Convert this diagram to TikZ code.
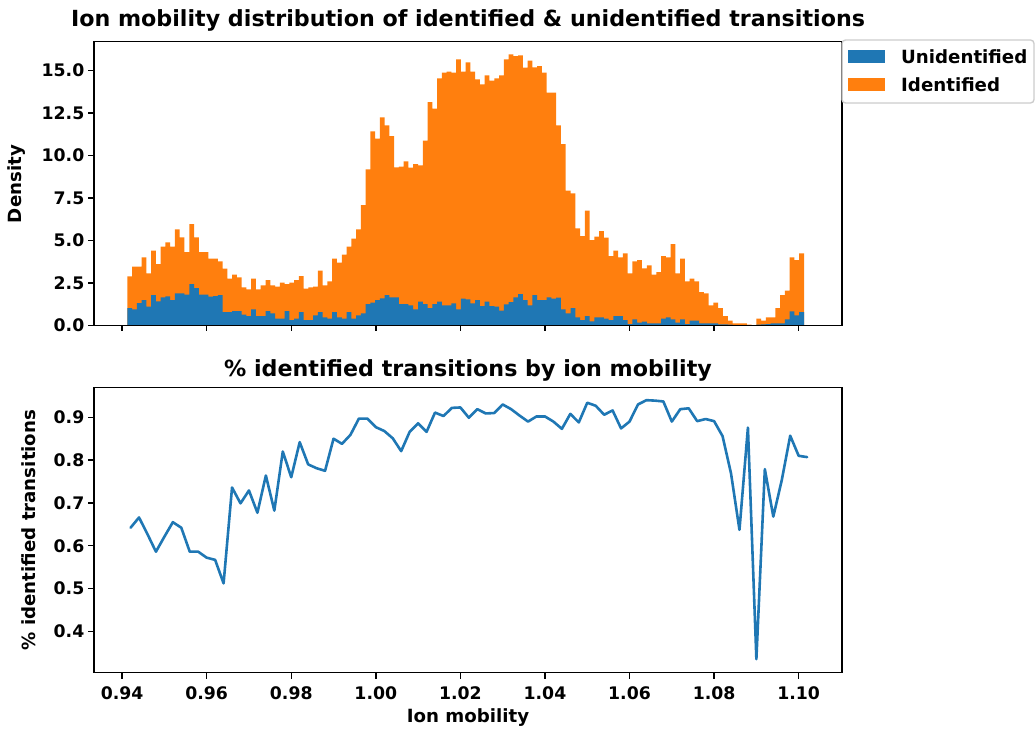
\documentclass[tikz,border=0pt]{standalone}
\usepackage{fontspec}
\setmainfont{DejaVu Sans}
\definecolor{tabblue}{RGB}{31,119,180}
\definecolor{taborange}{RGB}{255,127,14}
\definecolor{leggray}{RGB}{204,204,204}
\begin{document}
\begin{tikzpicture}[x=1pt,y=-1pt,
  frame/.style={line width=1.38pt, draw=black},
  tickmark/.style={line width=1.38pt, draw=black},
  ticklab/.style={font=\fontsize{17.3}{20}\selectfont\bfseries, inner sep=0pt},
  axlab/.style={font=\fontsize{18.2}{21}\selectfont\bfseries, inner sep=0pt},
  ttl/.style={font=\fontsize{22.2}{26}\selectfont\bfseries, inner sep=0pt},
  dataline/.style={draw=tabblue, line width=2.6pt, line join=round, line cap=round}]
\useasboundingbox (0,0) rectangle (1035,728);
% ---------------- top histogram ----------------
\fill[taborange] (127.3,325.33)
 \foreach \h [count=\k from 0] in {709,680,680,652,700,632,672,620,607,620,568,592,636,552,592,636,636,656,656,664,686,716,704,712,742,748,716,748,736,720,736,740,728,732,728,720,708,746,742,740,692,736,724,656,668,644,620,596,568,495,388,274,296,232,256,288,382,380,364,383,372,376,302,186,206,115,98,95,98,58,95,67,95,118,133,106,122,115,106,58,43,48,46,83,62,82,78,98,158,158,256,312,452,460,565,588,512,600,590,573,593,648,632,652,640,700,664,660,685,676,704,696,648,652,612,700,656,724,716,724,756,760,796,788,804,828,842,850,850,850,854,856,836,842,832,832,804,765,752,652,660,640}
 { -- ({127.3+4.7655*\k},{40+\h/3}) -- ({127.3+4.7655*(\k+1)},{40+\h/3}) }
 -- (804,325.33) -- cycle;
\fill[tabblue] (127.3,325.33)
 \foreach \h [count=\k from 0] in {804,808,789,780,800,765,784,772,769,780,760,760,764,732,744,764,764,770,768,765,816,816,813,813,824,828,808,828,828,813,820,836,836,813,840,836,816,840,840,826,816,832,836,816,832,836,816,836,826,820,792,788,780,775,765,772,772,792,792,796,808,785,792,804,792,785,796,796,790,808,776,778,790,780,798,785,798,800,812,793,786,772,762,780,796,765,780,780,772,776,773,808,820,804,832,840,828,844,832,832,836,840,828,828,840,852,838,848,845,850,850,850,836,832,838,848,838,852,842,842,850,850,850,850,853,853,854,855,855,855,855,856,854,853,852,850,850,850,838,814,826,816}
 { -- ({127.3+4.7655*\k},{40+\h/3}) -- ({127.3+4.7655*(\k+1)},{40+\h/3}) }
 -- (804,325.33) -- cycle;
\draw[frame] (94,41.7) rectangle (842,325.33);
\foreach \j in {0,...,8} {
  \draw[tickmark] ({122.1+84.57*\j},325.33) -- ({122.1+84.57*\j},331.4);
}
\foreach \lab [count=\j from 0] in {0.0,2.5,5.0,7.5,10.0,12.5,15.0} {
  \draw[tickmark] (94,{325.33-42.5*\j}) -- (87.9,{325.33-42.5*\j});
  \node[ticklab, anchor=east] (ty\j) at (84.5,{325.33-42.5*\j}) {\lab};
}
\node[axlab, rotate=90] (dens) at (17,184) {Density};
\node[ttl, anchor=base] (t1) at (468,27) {Ion mobility distribution of identified \& unidentified transitions};
% ---------------- legend ----------------
\draw[draw=leggray, fill=white, fill opacity=0.8, rounded corners=3.5pt, line width=1.38pt] (842,40) rectangle (1034,103);
\fill[tabblue] (848,50) rectangle (885,63.3);
\fill[taborange] (848,77.7) rectangle (885,91);
\node[axlab, anchor=base west] (lu) at (901,63.3) {Unidentified};
\node[axlab, anchor=base west] (li) at (901,91) {Identified};
% ---------------- bottom line plot ----------------
\draw[dataline] (130.557,{417.3-(0.642-0.9)*428})
 \foreach \v [count=\k from 1] in {0.666,0.627,0.586,0.621,0.655,0.642,0.586,0.586,0.572,0.567,0.512,0.736,0.699,0.729,0.677,0.764,0.682,0.820,0.760,0.842,0.790,0.781,0.775,0.850,0.838,0.859,0.897,0.897,0.877,0.868,0.851,0.821,0.866,0.886,0.866,0.911,0.903,0.922,0.923,0.899,0.919,0.909,0.910,0.930,0.919,0.904,0.890,0.902,0.902,0.890,0.873,0.908,0.888,0.934,0.927,0.906,0.916,0.874,0.890,0.930,0.940,0.939,0.937,0.890,0.919,0.921,0.891,0.896,0.891,0.856,0.769,0.637,0.876,0.335,0.779,0.668,0.753,0.857,0.810,0.807}
 { -- ({130.557+8.457*\k},{417.3-(\v-0.9)*428}) };
\draw[frame] (94,387.3) rectangle (842,672.7);
\foreach \lab [count=\j from 0] in {0.94,0.96,0.98,1.00,1.02,1.04,1.06,1.08,1.10} {
  \draw[tickmark] ({122.1+84.57*\j},672.7) -- ({122.1+84.57*\j},678.8);
  \node[ticklab, anchor=north] (bx\j) at ({122.1+84.57*\j},686) {\lab};
}
\foreach \lab [count=\j from 4] in {0.4,0.5,0.6,0.7,0.8,0.9} {
  \draw[tickmark] (94,{417.3-(\j/10-0.9)*428}) -- (87.9,{417.3-(\j/10-0.9)*428});
  \node[ticklab, anchor=east] (by\j) at (84.5,{417.3-(\j/10-0.9)*428}) {\lab};
}
\node[axlab, rotate=90] (pct) at (28.5,530) {\% identified transitions};
\node[ttl, anchor=base] (t2) at (468,376) {\% identified transitions by ion mobility};
\node[axlab, anchor=north] (xlab) at (468,708.5) {Ion mobility};
\end{tikzpicture}
\end{document}
